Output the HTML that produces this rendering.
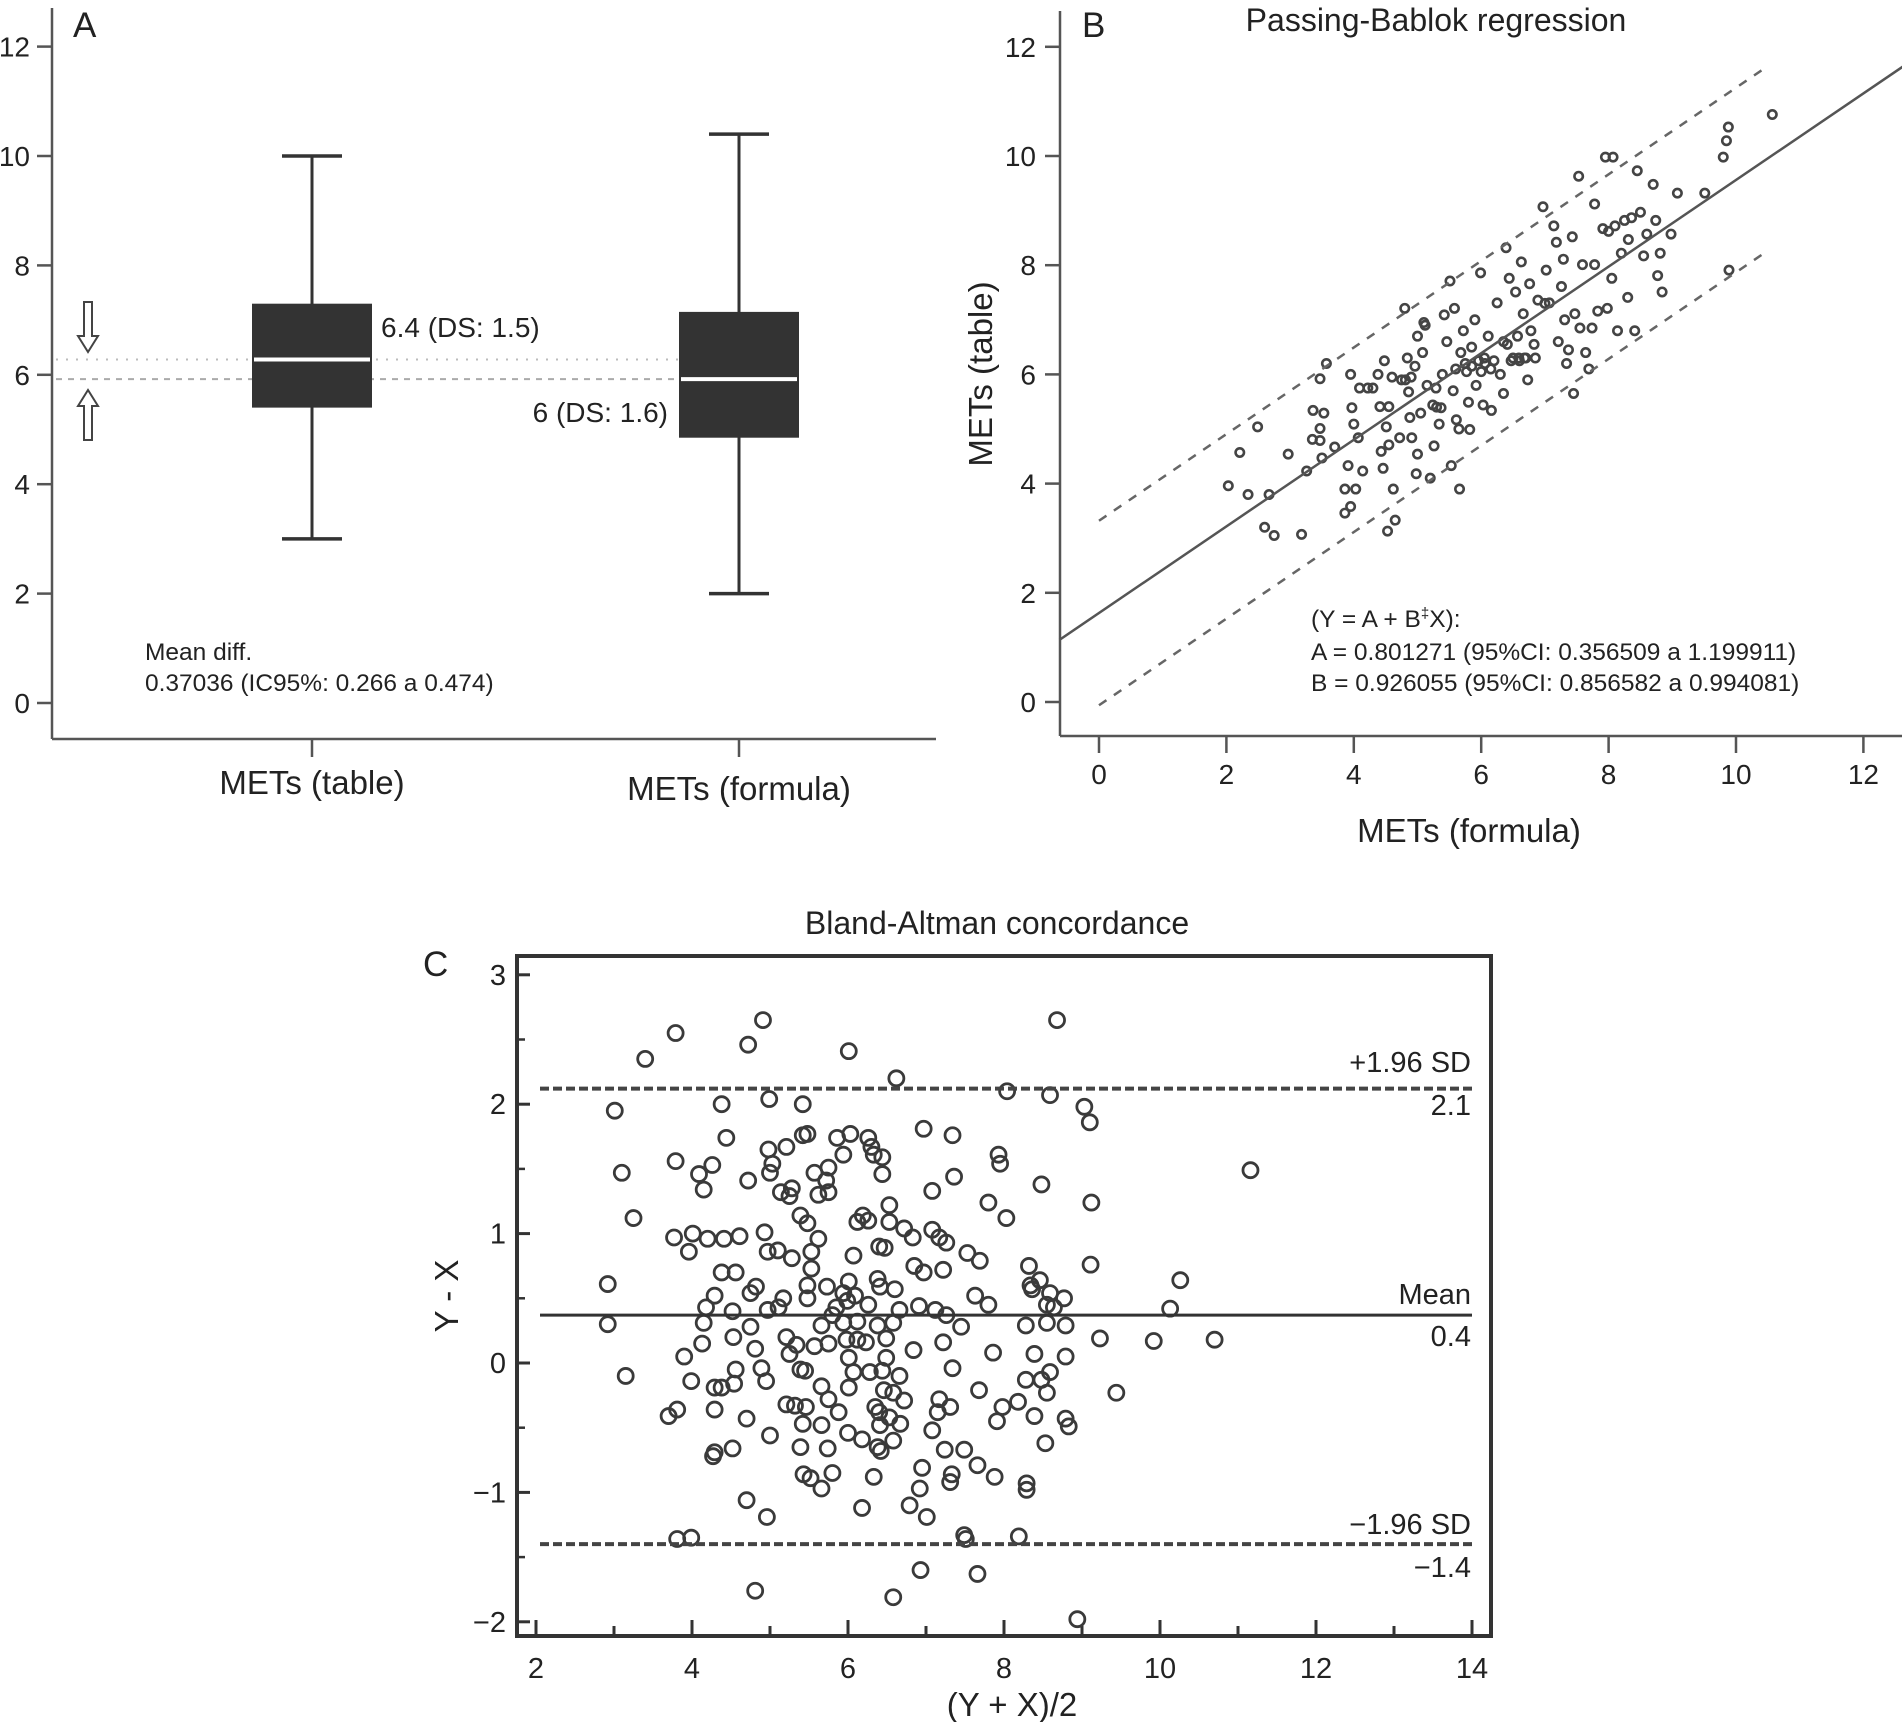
<!DOCTYPE html>
<html><head><meta charset="utf-8"><style>
html,body{margin:0;padding:0;background:#fff;}
svg{display:block;font-family:"Liberation Sans",Arial,sans-serif;}
</style></head><body>
<svg id="fig" width="1902" height="1722" viewBox="0 0 1902 1722" xmlns="http://www.w3.org/2000/svg"></svg>
<script>
// ---- Panel A data ----
const boxCategories = ["METs (table)", "METs (formula)"];
const boxWhiskerLow = [3.0, 2.0];
const boxQ1 = [5.4, 4.85];
const boxMedian = [6.28, 5.92];
const boxQ3 = [7.3, 7.15];
const boxWhiskerHigh = [10.0, 10.4];
const aTicks = [0, 2, 4, 6, 8, 10, 12];

// ---- Panel B data ----
const pbX = [2.03,2.21,2.34,2.49,2.6,2.67,2.75,2.97,3.18,3.26,3.36,3.35,3.47,3.47,3.47,3.5,3.53,3.57,3.7,3.86,3.86,3.91,3.95,3.95,3.97,4.0,4.03,4.07,4.09,4.14,4.22,4.38,4.41,4.43,4.46,4.48,4.51,4.53,4.55,4.55,4.6,4.62,4.65,4.72,4.8,4.81,4.84,4.86,4.88,4.91,4.96,4.98,5.0,5.0,5.05,5.08,5.12,5.15,5.2,5.24,5.26,5.29,5.34,5.37,5.39,5.42,5.46,5.51,5.53,5.56,5.58,5.61,5.66,5.68,5.72,5.77,5.8,5.82,5.85,5.9,5.92,5.96,5.99,6.03,6.06,6.11,6.16,6.2,6.25,6.3,6.35,6.39,6.41,6.44,6.47,6.54,6.57,6.59,6.63,6.66,6.68,6.73,6.76,6.78,6.83,6.85,6.89,6.97,7.02,7.07,7.14,7.18,7.21,7.26,7.29,7.31,7.34,7.37,7.43,7.45,7.47,7.53,7.55,7.59,7.64,7.69,7.74,7.78,7.78,7.83,7.91,7.95,7.98,8.0,8.05,8.07,8.1,8.14,8.2,8.25,8.3,8.31,8.36,8.41,8.45,8.5,8.55,8.6,8.7,8.74,8.77,8.81,8.84,8.98,9.08,9.51,9.8,9.85,9.88,9.89,10.57,5.6,5.75,6.05,6.15,6.5,6.6,6.7,5.3,5.85,4.3,4.75,5.1,6.0,6.35,7.0,5.65,4.9];
const pbY = [3.96,4.57,3.8,5.04,3.2,3.8,3.05,4.54,3.07,4.23,5.34,4.81,5.92,5.01,4.79,4.47,5.29,6.2,4.67,3.9,3.46,4.33,3.58,6.0,5.39,5.09,3.9,4.84,5.75,4.23,5.75,6.0,5.41,4.59,4.28,6.25,5.04,3.13,4.71,5.41,5.95,3.9,3.33,4.84,7.21,5.9,6.3,5.68,5.21,4.84,6.15,4.18,6.7,4.54,5.29,6.4,6.9,5.8,4.1,5.44,4.69,5.75,5.09,5.39,6.0,7.09,6.6,7.71,4.33,5.7,7.21,5.17,3.9,6.4,6.8,6.05,5.49,4.99,6.5,7.0,5.8,6.25,7.86,5.44,6.2,6.7,5.34,6.25,7.31,6.0,5.65,8.32,6.55,7.76,6.25,7.51,6.7,6.3,8.06,7.11,6.3,5.9,7.66,6.8,6.55,6.3,7.36,9.07,7.91,7.31,8.72,8.42,6.6,7.61,8.11,7.0,6.2,6.45,8.52,5.65,7.11,9.63,6.85,8.01,6.4,6.1,6.85,9.12,8.01,7.16,8.67,9.98,7.21,8.62,7.76,9.98,8.72,6.8,8.22,8.82,7.41,8.47,8.87,6.8,9.73,8.97,8.17,8.57,9.48,8.82,7.81,8.22,7.51,8.57,9.32,9.32,9.98,10.28,10.53,7.91,10.76,6.1,6.2,6.3,6.1,6.3,6.25,6.3,5.4,6.15,5.75,5.9,6.95,6.05,6.6,7.3,5.0,5.95];
const pbIntercept = 1.63;
const pbSlope = 0.793;
const pbBand = 1.69;
const bTicks = [0, 2, 4, 6, 8, 10, 12];

// ---- Panel C data ----
const baMean = [3.79,4.91,3.4,4.72,6.01,8.68,6.62,8.04,8.59,9.03,9.1,3.01,4.38,4.99,5.42,4.44,3.1,3.79,4.26,4.09,4.15,4.72,4.98,5.21,5.0,5.03,5.14,5.25,5.28,5.42,5.48,5.57,5.75,5.72,5.62,5.75,5.86,5.94,6.03,6.26,6.3,6.33,6.44,6.44,6.97,7.34,7.36,7.08,7.8,7.93,7.95,8.03,8.48,9.12,11.16,3.25,3.77,4.01,4.2,4.41,4.61,3.96,4.93,4.97,5.1,5.28,5.39,5.48,5.62,5.53,5.53,6.07,6.12,6.19,6.26,6.53,6.53,6.4,6.47,6.72,6.83,7.08,7.17,7.26,7.53,7.69,6.85,6.97,7.22,8.32,8.46,9.11,10.26,2.92,2.92,4.38,4.56,4.29,4.18,4.52,4.82,4.75,4.97,5.17,5.11,5.48,5.73,5.48,5.85,5.99,6.01,5.94,6.09,6.26,6.38,6.41,6.6,6.66,6.91,7.12,7.26,7.63,7.8,8.34,8.36,8.59,8.77,8.55,8.64,10.13,4.15,4.75,5.66,5.8,5.94,6.12,6.38,6.58,7.45,8.28,8.55,8.79,4.13,4.53,4.81,5.21,5.34,5.25,5.57,5.75,5.98,6.12,6.23,6.49,6.84,7.22,7.86,8.39,9.23,9.92,10.7,3.9,4.56,4.89,4.95,5.39,5.45,6.01,6.07,6.28,6.49,6.44,6.66,7.34,8.79,8.59,8.48,3.15,3.99,4.29,4.54,4.38,5.66,6.01,6.46,6.58,7.68,8.28,8.55,9.44,3.7,3.81,4.29,4.7,5.21,5.32,5.46,5.75,5.88,6.35,6.4,6.53,6.72,7.17,7.31,7.15,7.98,8.18,7.91,8.39,8.79,8.83,5.0,5.42,5.66,6.0,6.18,6.41,6.58,7.08,6.67,4.29,4.52,4.27,5.39,5.74,6.38,6.42,7.24,7.49,7.66,8.53,6.95,5.43,5.52,5.8,5.66,6.33,7.33,7.31,6.92,7.88,8.29,8.29,4.7,4.96,6.18,6.79,7.01,3.81,3.99,7.49,7.51,8.19,6.93,7.66,4.81,6.58,8.94];
const baDiff = [2.55,2.65,2.35,2.46,2.41,2.65,2.2,2.1,2.07,1.98,1.86,1.95,2.0,2.04,2.0,1.74,1.47,1.56,1.53,1.46,1.34,1.41,1.65,1.67,1.47,1.54,1.32,1.29,1.35,1.76,1.77,1.47,1.51,1.41,1.3,1.32,1.74,1.61,1.77,1.74,1.67,1.61,1.59,1.46,1.81,1.76,1.44,1.33,1.24,1.61,1.54,1.12,1.38,1.24,1.49,1.12,0.97,1.0,0.96,0.96,0.98,0.86,1.01,0.86,0.87,0.81,1.14,1.08,0.96,0.86,0.73,0.83,1.09,1.14,1.1,1.22,1.09,0.9,0.89,1.04,0.97,1.03,0.97,0.93,0.85,0.79,0.75,0.7,0.72,0.75,0.64,0.76,0.64,0.61,0.3,0.7,0.7,0.52,0.43,0.4,0.59,0.54,0.41,0.5,0.43,0.6,0.59,0.5,0.43,0.48,0.63,0.54,0.52,0.45,0.65,0.59,0.57,0.41,0.44,0.41,0.37,0.52,0.45,0.6,0.57,0.54,0.5,0.45,0.43,0.42,0.31,0.28,0.29,0.37,0.31,0.32,0.29,0.31,0.28,0.29,0.31,0.29,0.15,0.2,0.11,0.2,0.14,0.07,0.13,0.15,0.18,0.18,0.16,0.19,0.1,0.16,0.08,0.07,0.19,0.17,0.18,0.05,-0.05,-0.04,-0.14,-0.05,-0.06,0.04,-0.07,-0.07,0.04,-0.06,-0.1,-0.04,0.05,-0.07,-0.13,-0.1,-0.14,-0.19,-0.16,-0.19,-0.18,-0.19,-0.21,-0.23,-0.21,-0.13,-0.23,-0.23,-0.41,-0.36,-0.36,-0.43,-0.32,-0.33,-0.34,-0.28,-0.38,-0.34,-0.38,-0.42,-0.29,-0.28,-0.34,-0.38,-0.34,-0.3,-0.45,-0.41,-0.43,-0.49,-0.56,-0.47,-0.48,-0.54,-0.59,-0.48,-0.6,-0.52,-0.47,-0.69,-0.66,-0.72,-0.65,-0.66,-0.65,-0.68,-0.67,-0.67,-0.79,-0.62,-0.81,-0.86,-0.89,-0.85,-0.97,-0.88,-0.86,-0.92,-0.97,-0.88,-0.93,-0.98,-1.06,-1.19,-1.12,-1.1,-1.19,-1.36,-1.35,-1.33,-1.36,-1.34,-1.6,-1.63,-1.76,-1.81,-1.98];
const baMeanLine = 0.37;
const baUpper = 2.12;
const baLower = -1.4;
const cYTicks = [3, 2, 1, 0, -1, -2];
const cYTickLabels = ["3", "2", "1", "0", "\u22121", "\u22122"];
const cXTicks = [2, 4, 6, 8, 10, 12, 14];

const NS = "http://www.w3.org/2000/svg";
const svg = document.getElementById("fig");
function mk(tag, attrs, parent, txt) {
  const e = document.createElementNS(NS, tag);
  for (const k in attrs) e.setAttribute(k, attrs[k]);
  if (txt !== undefined) e.textContent = txt;
  (parent || svg).appendChild(e);
  return e;
}
function grp(name) {
  const g = mk("g", {});
  
  
  return g;
}
const ink = "#333";

// ================= Panel A =================
const yA = v => 703 - v * 54.7;
const xA = i => 312 + i * 427;
const gA = grp("panel-a-boxplot");
mk("line", {x1:52, y1:8, x2:52, y2:739, stroke:"#555", "stroke-width":2.5}, gA);
mk("line", {x1:52, y1:739, x2:936, y2:739, stroke:"#555", "stroke-width":2.5}, gA);
aTicks.forEach(t => {
  const l = mk("line", {x1:37, y1:yA(t), x2:52, y2:yA(t), stroke:"#555", "stroke-width":2.5}, gA);
  
  
  const tx = mk("text", {x:30, y:yA(t)+10, "text-anchor":"end", "font-size":28, fill:"#222"}, gA, String(t));
  
  
});
const lblA = mk("text", {x:73, y:37, "font-size":35, fill:"#222"}, gA, "A");

mk("line", {x1:56, y1:yA(boxMedian[0]), x2:xA(1)-60, y2:yA(boxMedian[0]), stroke:"#bbb", "stroke-width":2, "stroke-dasharray":"2 8"}, gA);
mk("line", {x1:56, y1:yA(boxMedian[1]), x2:xA(1)-60, y2:yA(boxMedian[1]), stroke:"#aaa", "stroke-width":2, "stroke-dasharray":"6 6"}, gA);
const ad = mk("path", {d:"M84 302 H92 V336 H98 L88 352 L78 336 H84 Z", fill:"#fff", stroke:"#444", "stroke-width":2}, gA);

const au = mk("path", {d:"M84 440 H92 V406 H98 L88 390 L78 406 H84 Z", fill:"#fff", stroke:"#444", "stroke-width":2}, gA);

boxCategories.forEach((c, i) => {
  const cx = xA(i);
  const b = mk("g", {}, gA);
  
  
  mk("line", {x1:cx, y1:yA(boxWhiskerLow[i]), x2:cx, y2:yA(boxWhiskerHigh[i]), stroke:ink, "stroke-width":3}, b);
  mk("line", {x1:cx-30, y1:yA(boxWhiskerHigh[i]), x2:cx+30, y2:yA(boxWhiskerHigh[i]), stroke:ink, "stroke-width":3.5}, b);
  mk("line", {x1:cx-30, y1:yA(boxWhiskerLow[i]), x2:cx+30, y2:yA(boxWhiskerLow[i]), stroke:ink, "stroke-width":3.5}, b);
  mk("rect", {x:cx-60, y:yA(boxQ3[i]), width:120, height:yA(boxQ1[i])-yA(boxQ3[i]), fill:ink}, b);
  mk("line", {x1:cx-58, y1:yA(boxMedian[i]), x2:cx+58, y2:yA(boxMedian[i]), stroke:"#fff", "stroke-width":4}, b);
  mk("line", {x1:cx, y1:739, x2:cx, y2:757, stroke:"#555", "stroke-width":2.5}, b);
  const t = mk("text", {x:cx, y:i===0?794:800, "text-anchor":"middle", "font-size":33, fill:"#222"}, gA, c);
  
  
});
mk("text", {x:381, y:337, "font-size":28, fill:"#222"}, gA, "6.4 (DS: 1.5)");
mk("text", {x:668, y:422, "text-anchor":"end", "font-size":28, fill:"#222"}, gA, "6 (DS: 1.6)");
mk("text", {x:145, y:660, "font-size":24.5, fill:"#222"}, gA, "Mean diff.");
mk("text", {x:145, y:691, "font-size":24.5, fill:"#222"}, gA, "0.37036 (IC95%: 0.266 a 0.474)");

// ================= Panel B =================
const xB = v => 1099 + v * 63.7;
const yB = v => 702 - v * 54.6;
const gB = grp("panel-b-passing-bablok");
mk("line", {x1:1060, y1:11, x2:1060, y2:736, stroke:"#555", "stroke-width":2.5}, gB);
mk("line", {x1:1060, y1:736, x2:1902, y2:736, stroke:"#555", "stroke-width":2.5}, gB);
bTicks.forEach(t => {
  const l = mk("line", {x1:1045, y1:yB(t), x2:1060, y2:yB(t), stroke:"#555", "stroke-width":2.5}, gB);
  
  const a = mk("text", {x:1036, y:yB(t)+10, "text-anchor":"end", "font-size":28, fill:"#222"}, gB, String(t));
  
  
  const l2 = mk("line", {x1:xB(t), y1:736, x2:xB(t), y2:753, stroke:"#555", "stroke-width":2.5}, gB);
  
  const b = mk("text", {x:xB(t), y:784, "text-anchor":"middle", "font-size":28, fill:"#222"}, gB, String(t));
  
  
});
mk("text", {x:1082, y:37, "font-size":35, fill:"#222"}, gB, "B");
mk("text", {x:1436, y:31, "text-anchor":"middle", "font-size":32, fill:"#222"}, gB, "Passing-Bablok regression");
mk("text", {x:1469, y:842, "text-anchor":"middle", "font-size":33, fill:"#222"}, gB, "METs (formula)");
mk("text", {x:0, y:0, "text-anchor":"middle", "font-size":33, fill:"#222", transform:"translate(992 374) rotate(-90)"}, gB, "METs (table)");
pbX.forEach((x, i) => {
  const c = mk("circle", {cx:xB(x), cy:yB(pbY[i]), r:4.2, fill:"none", stroke:"#444", "stroke-width":2.6}, gB);
  
  
});
const x0 = -0.62, x1 = 12.67;
mk("line", {x1:xB(x0), y1:yB(pbIntercept+pbSlope*x0), x2:xB(x1), y2:yB(pbIntercept+pbSlope*x1), stroke:"#555", "stroke-width":2.5}, gB);
mk("line", {x1:xB(0), y1:yB(pbIntercept+pbBand), x2:xB(10.5), y2:yB(pbIntercept+pbBand+pbSlope*10.5), stroke:"#666", "stroke-width":2.5, "stroke-dasharray":"9 9"}, gB);
mk("line", {x1:xB(0), y1:yB(pbIntercept-pbBand), x2:xB(10.5), y2:yB(pbIntercept-pbBand+pbSlope*10.5), stroke:"#666", "stroke-width":2.5, "stroke-dasharray":"9 9"}, gB);
const eq = mk("text", {x:1311, y:627, "font-size":24.5, fill:"#222"}, gB);

eq.innerHTML = '(Y = A + B<tspan font-size="15" dy="-9">‡</tspan><tspan dy="9">X):</tspan>';
mk("text", {x:1311, y:660, "font-size":24.5, fill:"#222"}, gB, "A = 0.801271 (95%CI: 0.356509 a 1.199911)");
mk("text", {x:1311, y:691, "font-size":24.5, fill:"#222"}, gB, "B = 0.926055 (95%CI: 0.856582 a 0.994081)");

// ================= Panel C =================
const xC = v => 536 + (v - 2) * 78.0;
const yC = v => 1363 - v * 129.4;
const gC = grp("panel-c-bland-altman");
mk("text", {x:997, y:934, "text-anchor":"middle", "font-size":32, fill:"#222"}, gC, "Bland-Altman concordance");
mk("text", {x:423, y:976, "font-size":35, fill:"#222"}, gC, "C");
mk("rect", {x:517, y:956, width:974, height:680, fill:"none", stroke:ink, "stroke-width":4}, gC);
cYTicks.forEach((t, i) => {
  const l = mk("line", {x1:517, y1:yC(t), x2:530, y2:yC(t), stroke:ink, "stroke-width":3}, gC);
  
  const a = mk("text", {x:506, y:yC(t)+10, "text-anchor":"end", "font-size":29, fill:"#222"}, gC, cYTickLabels[i]);
  
  
  if (t > -2) {
    const m = mk("line", {x1:517, y1:yC(t-0.5), x2:525, y2:yC(t-0.5), stroke:ink, "stroke-width":2.5}, gC);
    
  }
});
for (let v = 2; v <= 14; v++) {
  const l = mk("line", {x1:xC(v), y1:1636, x2:xC(v), y2:v % 2 ? 1626 : 1620, stroke:ink, "stroke-width":3}, gC);
  
}
cXTicks.forEach(t => {
  const a = mk("text", {x:xC(t), y:1678, "text-anchor":"middle", "font-size":29, fill:"#222"}, gC, String(t));
  
  
});
mk("text", {x:1012, y:1716, "text-anchor":"middle", "font-size":33, fill:"#222"}, gC, "(Y + X)/2");
mk("text", {x:0, y:0, "text-anchor":"middle", "font-size":33, fill:"#222", transform:"translate(458 1296) rotate(-90)"}, gC, "Y - X");
baMean.forEach((m, i) => {
  const c = mk("circle", {cx:xC(m), cy:yC(baDiff[i]), r:7.5, fill:"none", stroke:"#3a3a3a", "stroke-width":2.8}, gC);
  
  
});
mk("line", {x1:540, y1:yC(baUpper), x2:1472, y2:yC(baUpper), stroke:"#444", "stroke-width":4, "stroke-dasharray":"9 4"}, gC);
mk("line", {x1:540, y1:yC(baMeanLine), x2:1472, y2:yC(baMeanLine), stroke:"#333", "stroke-width":3}, gC);
mk("line", {x1:540, y1:yC(baLower), x2:1472, y2:yC(baLower), stroke:"#444", "stroke-width":4, "stroke-dasharray":"9 4"}, gC);
mk("text", {x:1471, y:1072, "text-anchor":"end", "font-size":29, fill:"#222"}, gC, "+1.96 SD");
mk("text", {x:1471, y:1115, "text-anchor":"end", "font-size":29, fill:"#222"}, gC, "2.1");
mk("text", {x:1471, y:1304, "text-anchor":"end", "font-size":29, fill:"#222"}, gC, "Mean");
mk("text", {x:1471, y:1346, "text-anchor":"end", "font-size":29, fill:"#222"}, gC, "0.4");
mk("text", {x:1471, y:1534, "text-anchor":"end", "font-size":29, fill:"#222"}, gC, "\u22121.96 SD");
mk("text", {x:1471, y:1577, "text-anchor":"end", "font-size":29, fill:"#222"}, gC, "\u22121.4");
</script>
</body></html>
